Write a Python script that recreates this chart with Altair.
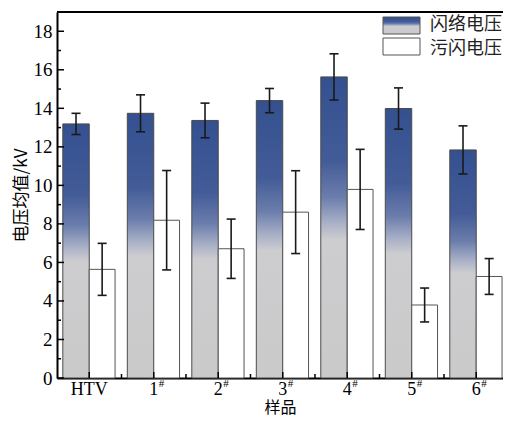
import altair as alt
import pandas as pd

# ---- data ----
samples = ["HTV", "1#", "2#", "3#", "4#", "5#", "6#"]
flash_mean = [13.19, 13.74, 13.37, 14.40, 15.63, 13.99, 11.84]
flash_err = [0.55, 0.96, 0.90, 0.63, 1.20, 1.07, 1.25]
pollution_mean = [5.64, 8.19, 6.71, 8.61, 9.79, 3.79, 5.27]
pollution_err = [1.35, 2.58, 1.54, 2.15, 2.08, 0.88, 0.93]
series_names = ["闪络电压", "污闪电压"]
y_ticks_major = [0, 2, 4, 6, 8, 10, 12, 14, 16, 18]
y_ticks_minor = [1, 3, 5, 7, 9, 11, 13, 15, 17]

SERIF = "Liberation Serif, Times New Roman, serif"
CJK = "Noto Sans CJK SC, sans-serif"
W, H = 446, 366
XMAX = 6.915
BW = 0.40   # bar width in category units
CAP = 0.07  # half cap width

rows = []
for i, s in enumerate(samples):
    c = i + 0.5
    rows.append(dict(
        sample=s, c=c,
        main=s.replace("#", ""), sup="#" if "#" in s else "",
        b0=c - BW - 0.01, b1=c, bc=c - BW / 2 - 0.005,
        w0=c, w1=c + BW, wc=c + BW / 2,
        f=flash_mean[i], flo=flash_mean[i] - flash_err[i], fhi=flash_mean[i] + flash_err[i],
        p=pollution_mean[i], plo=pollution_mean[i] - pollution_err[i], phi=pollution_mean[i] + pollution_err[i],
    ))
df = pd.DataFrame(rows)
df["fcl"] = df.bc - CAP
df["fcr"] = df.bc + CAP
df["pcl"] = df.wc - CAP
df["pcr"] = df.wc + CAP

xs = alt.Scale(domain=[0, XMAX], nice=False, zero=False)
ys = alt.Scale(domain=[0, 19], nice=False)

grad = alt.LinearGradient(
    gradient="linear", x1=0, y1=0, x2=0, y2=1,
    stops=[
        alt.GradientStop(offset=0.0, color="#34508f"),
        alt.GradientStop(offset=0.28, color="#435c98"),
        alt.GradientStop(offset=0.40, color="#6b7dab"),
        alt.GradientStop(offset=0.48, color="#a6aec6"),
        alt.GradientStop(offset=0.54, color="#cdcdd0"),
        alt.GradientStop(offset=1.0, color="#cacaca"),
    ],
)

base = alt.Chart(df)

flash_bars = base.mark_bar(fill=grad, stroke="#4a4a4a", strokeWidth=1).encode(
    x=alt.X("b0:Q", scale=xs, axis=alt.Axis(labels=False, ticks=False, grid=False,
                                            domainColor="black", domainWidth=2,
                                            title="样品", titleFont=CJK, titleFontSize=16,
                                            titleFontWeight="normal", titlePadding=21,
                                            titleColor="black")),
    x2="b1:Q",
    y=alt.Y("f:Q", scale=ys, axis=alt.Axis(values=y_ticks_major, ticks=False, grid=False,
                                           domainColor="black", domainWidth=2,
                                           labelFont=SERIF, labelFontSize=19, labelColor="black",
                                           labelPadding=5,
                                           title="电压均值/kV", titleFont=CJK, titleFontSize=17,
                                           titleFontWeight="normal", titleColor="black",
                                           titlePadding=3)),
    y2=alt.datum(0),
)

poll_bars = base.mark_bar(fill="white", stroke="#555555", strokeWidth=1).encode(
    x=alt.X("w0:Q", scale=xs), x2="w1:Q",
    y=alt.Y("p:Q", scale=ys), y2=alt.datum(0),
)

ec = "#1a1a1a"
f_err = base.mark_rule(color=ec, strokeWidth=1.6).encode(
    x=alt.X("bc:Q", scale=xs), y=alt.Y("flo:Q", scale=ys), y2="fhi:Q")
f_cap_hi = base.mark_rule(color=ec, strokeWidth=1.6).encode(
    x=alt.X("fcl:Q", scale=xs), x2="fcr:Q", y=alt.Y("fhi:Q", scale=ys))
f_cap_lo = base.mark_rule(color=ec, strokeWidth=1.6).encode(
    x=alt.X("fcl:Q", scale=xs), x2="fcr:Q", y=alt.Y("flo:Q", scale=ys))
p_err = base.mark_rule(color=ec, strokeWidth=1.6).encode(
    x=alt.X("wc:Q", scale=xs), y=alt.Y("plo:Q", scale=ys), y2="phi:Q")
p_cap_hi = base.mark_rule(color=ec, strokeWidth=1.6).encode(
    x=alt.X("pcl:Q", scale=xs), x2="pcr:Q", y=alt.Y("phi:Q", scale=ys))
p_cap_lo = base.mark_rule(color=ec, strokeWidth=1.6).encode(
    x=alt.X("pcl:Q", scale=xs), x2="pcr:Q", y=alt.Y("plo:Q", scale=ys))

# inward ticks
ymaj = alt.Chart(pd.DataFrame({"v": y_ticks_major})).mark_rule(color="black", strokeWidth=1.5).encode(
    y=alt.Y("v:Q", scale=ys), x=alt.value(0), x2=alt.value(7))
ymin = alt.Chart(pd.DataFrame({"v": y_ticks_minor})).mark_rule(color="black", strokeWidth=1.5).encode(
    y=alt.Y("v:Q", scale=ys), x=alt.value(0), x2=alt.value(4))
xmaj = base.mark_rule(color="black", strokeWidth=1.5).encode(
    x=alt.X("c:Q", scale=xs), y=alt.value(H), y2=alt.value(H - 6))
xmin = alt.Chart(pd.DataFrame({"v": list(range(1, len(samples)))})).mark_rule(color="black", strokeWidth=1.5).encode(
    x=alt.X("v:Q", scale=xs), y=alt.value(H), y2=alt.value(H - 4))
top_line = alt.Chart(pd.DataFrame({"a": [0]})).mark_rule(color="black", strokeWidth=2).encode(
    x=alt.value(0), x2=alt.value(W), y=alt.value(0))

# category labels with superscript '#'
lab_main = base.mark_text(font=SERIF, fontSize=18, color="black", align="center", baseline="middle").encode(
    x=alt.X("c:Q", scale=xs), y=alt.value(H + 12), text="main:N")
lab_sup = base.mark_text(font=SERIF, fontSize=11, color="black", align="left", baseline="middle", dx=5).encode(
    x=alt.X("c:Q", scale=xs), y=alt.value(H + 6), text="sup:N")

# manual legend
leg_df = pd.DataFrame({"name": series_names})
leg_sw1 = alt.Chart(leg_df.iloc[[0]]).mark_rect(fill=grad, stroke="#555555", strokeWidth=1).encode(
    x=alt.value(326), x2=alt.value(363), y=alt.value(5), y2=alt.value(22))
leg_sw2 = alt.Chart(leg_df.iloc[[1]]).mark_rect(fill="white", stroke="#555555", strokeWidth=1).encode(
    x=alt.value(326), x2=alt.value(363), y=alt.value(26), y2=alt.value(43))
leg_t1 = alt.Chart(leg_df.iloc[[0]]).mark_text(font=CJK, fontSize=18, color="#222222", align="left", baseline="middle").encode(
    x=alt.value(373), y=alt.value(12.5), text="name:N")
leg_t2 = alt.Chart(leg_df.iloc[[1]]).mark_text(font=CJK, fontSize=18, color="#222222", align="left", baseline="middle").encode(
    x=alt.value(373), y=alt.value(36.5), text="name:N")

chart = alt.layer(
    flash_bars, poll_bars,
    f_err, f_cap_hi, f_cap_lo, p_err, p_cap_hi, p_cap_lo,
    ymaj, ymin, xmaj, xmin, top_line,
    lab_main, lab_sup,
    leg_sw1, leg_sw2, leg_t1, leg_t2,
).properties(
    width=W, height=H,
    autosize=alt.AutoSizeParams(type="none"),
    padding={"left": 49, "top": 4, "right": 0, "bottom": 39},
).configure_view(stroke=None).configure(background="white")

chart.save("out.html", embed_options={"renderer": "svg", "actions": False})
